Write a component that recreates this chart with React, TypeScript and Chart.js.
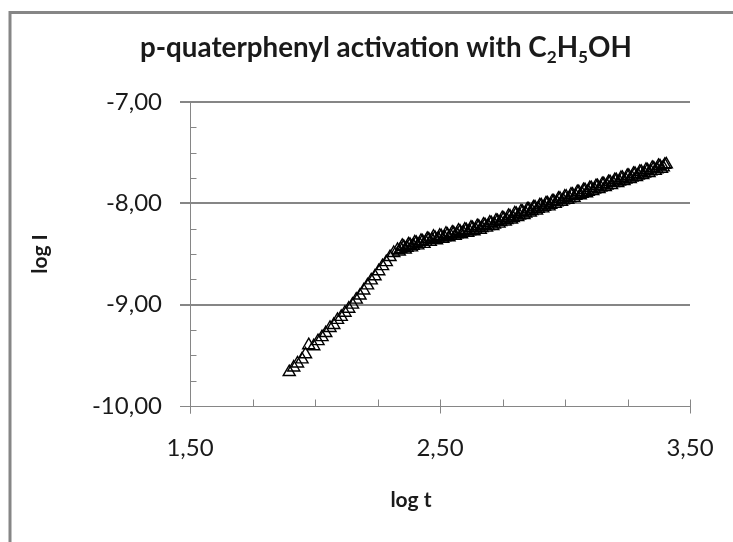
import React, { useEffect, useRef } from 'react';
import { Chart, registerables } from 'chart.js';

Chart.register(...registerables);

// ---- data ----
const logT: number[] = [
  1.897, 1.915, 1.930, 1.948, 1.962, 1.975, 1.995, 2.012, 2.028, 2.043,
  2.060, 2.075, 2.090, 2.105, 2.120, 2.135, 2.150, 2.165, 2.180, 2.195,
  2.210, 2.225, 2.240, 2.255, 2.270, 2.285, 2.300, 2.315, 2.330,
  2.343, 2.355, 2.368, 2.380, 2.393, 2.405, 2.418, 2.430, 2.443, 2.455,
  2.468, 2.480, 2.493, 2.505, 2.518, 2.530, 2.543, 2.555, 2.568, 2.580,
  2.593, 2.605, 2.618, 2.630, 2.643, 2.655, 2.668, 2.680, 2.693, 2.705,
  2.718, 2.730, 2.743, 2.755, 2.768, 2.780, 2.793, 2.805, 2.818, 2.830,
  2.843, 2.855, 2.868, 2.880, 2.893, 2.905, 2.918, 2.930, 2.943, 2.955,
  2.968, 2.980, 2.993, 3.005, 3.018, 3.030, 3.043, 3.055, 3.068, 3.080,
  3.093, 3.105, 3.118, 3.130, 3.143, 3.155, 3.168, 3.180, 3.193, 3.205,
  3.218, 3.230, 3.243, 3.255, 3.268, 3.280, 3.293, 3.305, 3.318, 3.330,
  3.343, 3.355, 3.368, 3.380, 3.393, 3.405,
];

const logI: number[] = [
  -9.665, -9.62, -9.58, -9.54, -9.49, -9.40, -9.41, -9.36, -9.32, -9.28,
  -9.23, -9.20, -9.15, -9.12, -9.08, -9.04, -9.00, -8.95, -8.91, -8.86,
  -8.81, -8.76, -8.72, -8.67, -8.62, -8.58, -8.53, -8.49, -8.46,
  -8.45, -8.43, -8.44, -8.41, -8.42, -8.39, -8.40, -8.375, -8.38, -8.355,
  -8.36, -8.34, -8.35, -8.325, -8.335, -8.31, -8.32, -8.295, -8.305, -8.28,
  -8.29, -8.265, -8.275, -8.245, -8.26, -8.23, -8.245, -8.215, -8.225, -8.195,
  -8.21, -8.175, -8.185, -8.15, -8.165, -8.13, -8.145, -8.105, -8.12, -8.085,
  -8.10, -8.06, -8.075, -8.04, -8.055, -8.02, -8.035, -8.00, -8.015, -7.98,
  -7.99, -7.955, -7.97, -7.935, -7.95, -7.915, -7.925, -7.89, -7.905, -7.87,
  -7.885, -7.85, -7.865, -7.83, -7.845, -7.81, -7.825, -7.79, -7.80, -7.77,
  -7.785, -7.75, -7.765, -7.73, -7.745, -7.71, -7.725, -7.69, -7.705, -7.675,
  -7.685, -7.655, -7.665, -7.635, -7.645, -7.615,
];

// interleaved readings in the dense upper branch
const logT2: number[] = [
  2.337, 2.349, 2.361, 2.374, 2.386, 2.399, 2.411, 2.424, 2.436, 2.449,
  2.461, 2.474, 2.486, 2.499, 2.511, 2.524, 2.536, 2.549, 2.561, 2.574,
  2.586, 2.599, 2.611, 2.624, 2.636, 2.649, 2.661, 2.674, 2.686, 2.699,
  2.711, 2.724, 2.736, 2.749, 2.761, 2.774, 2.786, 2.799, 2.811, 2.824,
  2.836, 2.849, 2.861, 2.874, 2.886, 2.899, 2.911, 2.924, 2.936, 2.949,
  2.961, 2.974, 2.986, 2.999, 3.011, 3.024, 3.036, 3.049, 3.061, 3.074,
  3.086, 3.099, 3.111, 3.124, 3.136, 3.149, 3.161, 3.174, 3.186, 3.199,
  3.211, 3.224, 3.236, 3.249, 3.261, 3.274, 3.286, 3.299, 3.311, 3.324,
  3.336, 3.349, 3.361, 3.374, 3.386, 3.399,
];

const logI2: number[] = [
  -8.475, -8.42, -8.455, -8.405, -8.435, -8.385, -8.415, -8.37, -8.40, -8.35,
  -8.38, -8.33, -8.365, -8.32, -8.35, -8.30, -8.335, -8.29, -8.32, -8.27,
  -8.305, -8.26, -8.29, -8.24, -8.275, -8.225, -8.26, -8.21, -8.24, -8.19,
  -8.225, -8.17, -8.20, -8.145, -8.18, -8.125, -8.16, -8.10, -8.135, -8.08,
  -8.115, -8.06, -8.09, -8.04, -8.07, -8.02, -8.05, -8.00, -8.03, -7.98,
  -8.005, -7.955, -7.985, -7.935, -7.965, -7.915, -7.945, -7.89, -7.92, -7.87,
  -7.90, -7.85, -7.88, -7.83, -7.86, -7.81, -7.84, -7.79, -7.82, -7.77,
  -7.80, -7.75, -7.78, -7.73, -7.76, -7.71, -7.74, -7.69, -7.72, -7.67,
  -7.70, -7.65, -7.68, -7.63, -7.66, -7.62,
];

const xMajorTicks: number[] = [1.5, 2.5, 3.5];
const xMinorTicks: number[] = [1.75, 2.0, 2.25, 2.75, 3.0, 3.25];
const yMajorTicks: number[] = [-7, -8, -9, -10];
const yMinorTicks: number[] = [-7.25, -7.5, -7.75, -8.25, -8.5, -8.75, -9.25, -9.5, -9.75];
const yGridValues: number[] = [-7, -8, -9];

const titleParts: [string, boolean][] = [
  ['p-quaterphenyl activation with C', false],
  ['2', true],
  ['H', false],
  ['5', true],
  ['OH', false],
];
const xAxisTitle = 'log t';
const yAxisTitle = 'log I';

const fmt = (v: number) => v.toFixed(2).replace('.', ',');

const GRAY = '#868686';
const TEXT = '#1a1a1a';
const FONT = 'Lato, "Open Sans", sans-serif';

const excelPlugin = {
  id: 'excelPlugin',
  beforeDatasetsDraw(chart: any) {
    const { ctx } = chart;
    const x = chart.scales.x;
    const y = chart.scales.y;
    const xl = x.getPixelForValue(1.5);
    const xr = x.getPixelForValue(3.5);
    const yb = y.getPixelForValue(-10);
    ctx.save();

    // outer chart border (left and top visible)
    ctx.strokeStyle = GRAY;
    ctx.lineWidth = 3;
    ctx.beginPath();
    ctx.moveTo(10, 542);
    ctx.lineTo(10, 12.5);
    ctx.lineTo(733, 12.5);
    ctx.stroke();

    // horizontal gridlines
    ctx.lineWidth = 2;
    for (const v of yGridValues) {
      const py = Math.round(y.getPixelForValue(v));
      ctx.beginPath();
      ctx.moveTo(xl - 10, py);
      ctx.lineTo(xr, py);
      ctx.stroke();
    }

    // axes
    ctx.lineWidth = 1;
    const ax = Math.round(xl) + 0.5;
    const ay = Math.round(yb) + 0.5;
    ctx.beginPath();
    ctx.moveTo(ax, y.getPixelForValue(-7));
    ctx.lineTo(ax, ay + 7);
    ctx.moveTo(xl - 10, ay);
    ctx.lineTo(xr, ay);
    ctx.stroke();

    ctx.beginPath();
    for (const v of yMinorTicks) {
      const py = Math.round(y.getPixelForValue(v)) + 0.5;
      ctx.moveTo(ax, py);
      ctx.lineTo(ax + 6, py);
    }
    for (const v of xMinorTicks) {
      const px = Math.round(x.getPixelForValue(v)) + 0.5;
      ctx.moveTo(px, ay);
      ctx.lineTo(px, ay - 7);
    }
    for (const v of xMajorTicks) {
      const px = Math.round(x.getPixelForValue(v)) + 0.5;
      ctx.moveTo(px, ay - 7);
      ctx.lineTo(px, ay + 7);
    }
    ctx.stroke();

    // tick labels
    ctx.fillStyle = TEXT;
    ctx.font = `24px ${FONT}`;
    ctx.textBaseline = 'middle';
    ctx.textAlign = 'right';
    for (const v of yMajorTicks) {
      ctx.fillText(fmt(v), xl - 28, y.getPixelForValue(v));
    }
    ctx.textAlign = 'center';
    for (const v of xMajorTicks) {
      ctx.fillText(fmt(v), x.getPixelForValue(v), 448);
    }

    // axis titles
    ctx.font = `bold 21px ${FONT}`;
    ctx.fillText(xAxisTitle, 411, 500);
    ctx.save();
    ctx.translate(40, (y.getPixelForValue(-7) + yb) / 2);
    ctx.rotate(-Math.PI / 2);
    ctx.fillText(yAxisTitle, 0, 0);
    ctx.restore();

    // chart title with subscripts
    const targetLeft = 140;
    const targetRight = 632;
    const measure = (size: number) => {
      let w = 0;
      for (const [t, sub] of titleParts) {
        ctx.font = `bold ${sub ? size * 0.62 : size}px ${FONT}`;
        w += ctx.measureText(t).width;
      }
      return w;
    };
    const base = 20;
    const size = base * (targetRight - targetLeft) / measure(base);
    let cx = targetLeft;
    const baseline = 57;
    ctx.textAlign = 'left';
    ctx.textBaseline = 'alphabetic';
    for (const [t, sub] of titleParts) {
      ctx.font = `bold ${sub ? size * 0.62 : size}px ${FONT}`;
      ctx.fillText(t, cx, sub ? baseline + size * 0.22 : baseline);
      cx += ctx.measureText(t).width;
    }
    ctx.restore();
  },
};

export default function App() {
  const ref = useRef<HTMLCanvasElement | null>(null);
  useEffect(() => {
    if (!ref.current) return;
    const data = [
      ...logT.map((t, i) => ({ x: t, y: logI[i] })),
      ...logT2.map((t, i) => ({ x: t, y: logI2[i] })),
    ];
    const chart = new Chart(ref.current, {
      type: 'scatter',
      data: {
        datasets: [
          {
            label: 'log I',
            data,
            pointStyle: 'triangle',
            pointRadius: 7,
            pointBorderWidth: 1.4,
            borderColor: '#000000',
            backgroundColor: 'rgba(0,0,0,0)',
            pointBackgroundColor: 'rgba(0,0,0,0)',
            pointBorderColor: '#000000',
          },
        ],
      },
      options: {
        responsive: false,
        animation: false,
        devicePixelRatio: 1,
        layout: { padding: { left: 0, top: 102, right: 43, bottom: 0 } },
        plugins: {
          legend: { display: false },
          tooltip: { enabled: false },
          title: { display: false },
        },
        scales: {
          x: {
            type: 'linear',
            min: 1.5,
            max: 3.5,
            grid: { display: false, drawTicks: false },
            border: { display: false },
            ticks: { display: false, stepSize: 1 },
            afterFit: (s: any) => { s.height = 136; },
          },
          y: {
            type: 'linear',
            min: -10,
            max: -7,
            grid: { display: false, drawTicks: false },
            border: { display: false },
            ticks: { display: false, stepSize: 1 },
            afterFit: (s: any) => { s.width = 190; },
          },
        },
      },
      plugins: [excelPlugin],
    });
    return () => chart.destroy();
  }, []);
  return (
    <div style={{ position: 'fixed', left: 0, top: 0, width: 733, height: 542, background: '#fff' }}>
      <canvas ref={ref} width={733} height={542} style={{ width: 733, height: 542, display: 'block' }} />
    </div>
  );
}
